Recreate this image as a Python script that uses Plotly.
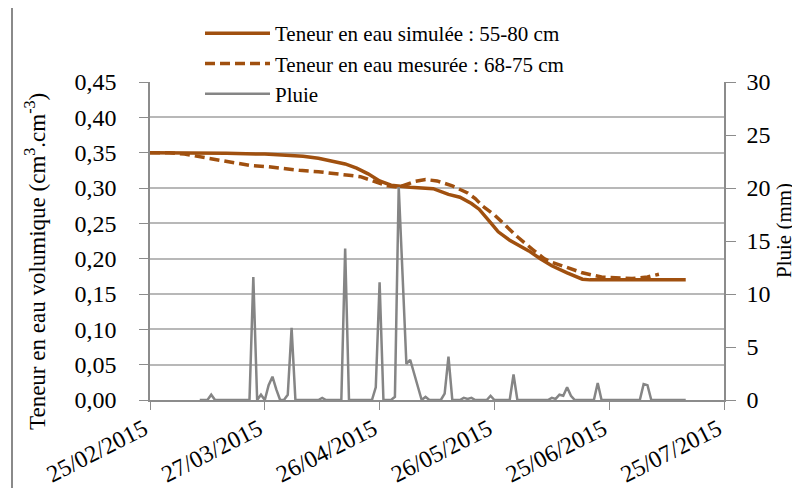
import pandas as pd
import plotly.graph_objects as go

# simulated water content, 55-80 cm
SIM_DATES = [
    "2015-02-25", "2015-03-07", "2015-03-17", "2015-03-27", "2015-04-01",
    "2015-04-06", "2015-04-10", "2015-04-14", "2015-04-17", "2015-04-20",
    "2015-04-23", "2015-04-26", "2015-04-29", "2015-05-04", "2015-05-10",
    "2015-05-14", "2015-05-17", "2015-05-20", "2015-05-22", "2015-05-25",
    "2015-05-27", "2015-05-30", "2015-06-02", "2015-06-04", "2015-06-07",
    "2015-06-10", "2015-06-14", "2015-06-16", "2015-06-18", "2015-06-20",
    "2015-07-15",
]
SIM_VALUES = [
    0.350, 0.350, 0.349, 0.348, 0.347,
    0.345, 0.342, 0.338, 0.334, 0.328,
    0.320, 0.310, 0.304, 0.301, 0.299,
    0.291, 0.287, 0.278, 0.270, 0.251,
    0.238, 0.226, 0.217, 0.211, 0.200,
    0.190, 0.180, 0.175, 0.171, 0.170,
    0.170,
]

# measured water content, 68-75 cm
MES_DATES = [
    "2015-02-25", "2015-03-02", "2015-03-06", "2015-03-10", "2015-03-15",
    "2015-03-19", "2015-03-23", "2015-03-28", "2015-04-01", "2015-04-05",
    "2015-04-10", "2015-04-14", "2015-04-18", "2015-04-21", "2015-04-25",
    "2015-04-28", "2015-05-01", "2015-05-03", "2015-05-05", "2015-05-08",
    "2015-05-11", "2015-05-15", "2015-05-19", "2015-05-21", "2015-05-23",
    "2015-05-26", "2015-05-28", "2015-06-01", "2015-06-05", "2015-06-08",
    "2015-06-10", "2015-06-14", "2015-06-18", "2015-06-23", "2015-06-27",
    "2015-07-01", "2015-07-05", "2015-07-08",
]
MES_VALUES = [
    0.350, 0.350, 0.348, 0.344, 0.339,
    0.335, 0.332, 0.330, 0.327, 0.325,
    0.323, 0.321, 0.318, 0.316, 0.308,
    0.303, 0.301, 0.305, 0.309, 0.312,
    0.310, 0.303, 0.293, 0.285, 0.274,
    0.262, 0.252, 0.231, 0.213, 0.200,
    0.195, 0.187, 0.180, 0.174, 0.173,
    0.172, 0.174, 0.178,
]

# daily rain (mm) from 10/03/2015
RAIN_START = "2015-03-10"
RAIN_MM = [
    0, 0, 0, 0.5, 0, 0, 0,
    0, 0, 0, 0, 0, 0, 0,
    11.6, 0, 0.5, 0, 1.4, 2.2, 1.0,
    0, 0, 0.5, 6.8, 0, 0, 0,
    0, 0, 0, 0, 0.2, 0, 0,
    0, 0, 0, 14.3, 0, 0, 0,
    0, 0, 0, 0, 1.2, 11.1, 0,
    0, 0, 0.3, 20.1, 11.8, 3.4, 3.8,
    2.5, 1.1, 0, 0.3, 0, 0, 0,
    0, 0.6, 4.1, 0, 0, 0, 0.2,
    0.1, 0.2, 0, 0, 0, 0, 0.4,
    0, 0, 0, 0, 0, 2.4, 0,
    0, 0, 0, 0, 0, 0, 0,
    0, 0.2, 0.1, 0.5, 0.4, 1.2, 0.4,
    0, 0, 0, 0, 0, 0, 1.6,
    0, 0, 0, 0, 0, 0, 0,
    0, 0, 0, 0, 1.5, 1.4, 0,
    0, 0, 0, 0, 0, 0, 0,
    0, 0,
]

X_TICKS = ["2015-02-25", "2015-03-27", "2015-04-26", "2015-05-26", "2015-06-25", "2015-07-25"]
Y_TICKS = [0, 0.05, 0.10, 0.15, 0.20, 0.25, 0.30, 0.35, 0.40, 0.45]
Y_GRID = [0.05, 0.10, 0.15, 0.20, 0.25, 0.30, 0.35, 0.40]
Y2_TICKS = [0, 5, 10, 15, 20, 25, 30]

BROWN = "#A0500F"
GREY = "#858585"
AXIS = "#8c8c8c"
GRID = "#b8b8b8"
FONT = "Liberation Serif, DejaVu Serif, Noto Serif, serif"

rain_dates = pd.date_range(RAIN_START, periods=len(RAIN_MM), freq="D")

fig = go.Figure()
fig.add_trace(go.Scatter(
    x=SIM_DATES, y=SIM_VALUES, mode="lines",
    name="Teneur en eau simulée : 55-80 cm",
    line=dict(color=BROWN, width=3.5),
))
fig.add_trace(go.Scatter(
    x=MES_DATES, y=MES_VALUES, mode="lines",
    name="Teneur en eau mesurée : 68-75 cm",
    line=dict(color=BROWN, width=3.5, dash="10px,5px"),
))
fig.add_trace(go.Scatter(
    x=rain_dates, y=RAIN_MM, mode="lines", yaxis="y2",
    name="Pluie",
    line=dict(color=GREY, width=2.5),
))
# empty trace carrying the gridline axis (no line at 0,45 in the original)
fig.add_trace(go.Scatter(x=[], y=[], yaxis="y3", showlegend=False, hoverinfo="skip"))

# the page body adds an 8 px margin, so the figure is drawn 8 px smaller
OFF = 8
W, H = 800 - OFF, 488 - OFF
L, R, T, B = 150 - OFF, 76, 82 - OFF, 88
pw, ph = W - L - R, H - T - B


def px(x):
    return (x - OFF - L) / pw


def py(y):
    return (H - B - (y - OFF)) / ph


fig.update_layout(
    width=W,
    height=H,
    margin=dict(l=L, r=R, t=T, b=B, autoexpand=False),
    paper_bgcolor="white",
    plot_bgcolor="white",
    separators=", ",
    font=dict(family=FONT, size=24, color="black"),
    showlegend=True,
    legend=dict(
        x=px(200), y=py(13), xanchor="left", yanchor="top",
        bgcolor="rgba(0,0,0,0)",
        font=dict(family=FONT, size=21, color="black"),
        itemwidth=65,
        tracegroupgap=0,
    ),
    xaxis=dict(
        type="date",
        range=["2015-02-25", "2015-07-25"],
        tickvals=X_TICKS,
        tickformat="%d/%m/%Y",
        tickangle=-27,
        tickfont=dict(family=FONT, size=24),
        ticks="outside", ticklen=8, tickcolor=AXIS,
        ticklabelstandoff=-4,
        ticklabelshift=-6,
        showline=True, linecolor=AXIS, linewidth=1.5,
        showgrid=False, zeroline=False,
    ),
    yaxis=dict(
        range=[0, 0.45],
        tickvals=Y_TICKS,
        tickformat=".2f",
        tickfont=dict(family=FONT, size=24),
        ticks="outside", ticklen=9, tickcolor=AXIS,
        ticklabelstandoff=18,
        showline=True, linecolor=AXIS, linewidth=1.5,
        showgrid=False, zeroline=False,
    ),
    yaxis2=dict(
        range=[0, 30],
        tickvals=Y2_TICKS,
        overlaying="y", side="right",
        tickfont=dict(family=FONT, size=24),
        ticks="outside", ticklen=10, tickcolor=AXIS,
        ticklabelstandoff=6,
        showline=True, linecolor=AXIS, linewidth=1.5,
        showgrid=False, zeroline=False,
    ),
    yaxis3=dict(
        range=[0, 0.45],
        tickvals=Y_GRID,
        overlaying="y", side="left",
        showticklabels=False, ticks="",
        showline=False, zeroline=False,
        showgrid=True, gridcolor=GRID, gridwidth=1.5,
    ),
    annotations=[
        dict(
            x=px(35), y=py(262), xref="paper", yref="paper",
            xanchor="center", yanchor="middle",
            text="Teneur en eau volumique (cm<sup>3</sup>.cm<sup>-3</sup>)",
            textangle=-90, showarrow=False,
            font=dict(family=FONT, size=23),
        ),
        dict(
            x=px(784), y=py(231), xref="paper", yref="paper",
            xanchor="center", yanchor="middle",
            text="Pluie (mm)",
            textangle=-90, showarrow=False,
            font=dict(family=FONT, size=21),
        ),
    ],
    shapes=[
        dict(
            type="rect", xref="paper", yref="paper",
            x0=px(12), x1=px(900), y0=py(600), y1=py(7),
            line=dict(color="#8a8a8a", width=2),
            layer="below",
        ),
    ],
)

fig.write_html("out.html")
